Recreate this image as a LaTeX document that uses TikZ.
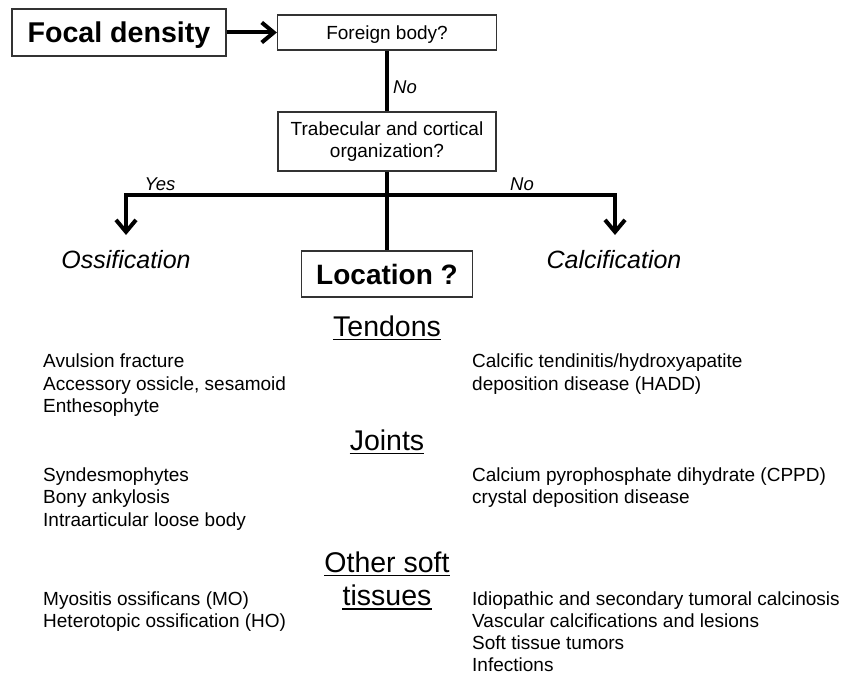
\documentclass[tikz,border=0pt]{standalone}
\usepackage{fontspec}
\setmainfont{Liberation Sans}
\usetikzlibrary{arrows.meta}
\begin{document}
\begin{tikzpicture}[x=1pt,y=-1pt,
  box/.style={draw=black!80,line width=1.3pt,inner sep=0pt,text depth=0pt},
  flow/.style={line width=4pt},
  tipd/.style={-{Straight Barb[length=12pt,width=20pt]}},
  lab/.style={font=\fontsize{18.5}{22}\selectfont\itshape,inner sep=0pt},
  item/.style={font=\fontsize{19}{22.7}\selectfont,inner sep=0pt,anchor=base west},
  head/.style={font=\fontsize{28.5}{34}\selectfont,inner sep=0pt,anchor=base},
  res/.style={font=\fontsize{25}{30}\selectfont\itshape,inner sep=0pt},
  uline/.style={line width=1.5pt}]
\useasboundingbox[fill=white] (0,0) rectangle (856,674);

% boxes
\node[box,minimum width=214pt,minimum height=47pt,font=\fontsize{28.6}{34}\selectfont\bfseries] (focal) at (119,32.5) {Focal density};
\node[box,minimum width=219pt,minimum height=35pt,font=\fontsize{19}{22.7}\selectfont] (foreign) at (387,32.5) {Foreign body?};
\node[box,minimum width=218pt,minimum height=59pt,align=center,text depth=,font=\fontsize{19}{22}\selectfont] (trab) at (387,141.5) {Trabecular and cortical\\organization?};
\node[box,minimum width=171pt,minimum height=46pt,font=\fontsize{28}{34}\selectfont\bfseries] (loc) at (387,274) {Location ?};

% connectors
\draw[flow,tipd] (focal.east) -- (foreign.west);
\draw[flow] (foreign.south) -- (trab.north);
\node[lab] (no1) at (405,87) {No};
\draw[flow] (trab.south) -- (loc.north);
\coordinate (j) at (387,195);
\coordinate (ossend) at (126,235);
\coordinate (calend) at (615,235);
\draw[flow,tipd] (j) -| (ossend);
\draw[flow,tipd] (j) -| (calend);
\node[lab] (yes) at (160,184) {Yes};
\node[lab] (no2) at (522,184) {No};

\node[res] (oss) at (126,260) {Ossification};
\node[res] (cal) at (614,260) {Calcification};

% headings
\node[head] (ten) at (387,336) {Tendons};
\draw[uline] ([yshift=-3.5pt]ten.base west) -- ([yshift=-3.5pt]ten.base east);
\node[head] (joi) at (387,450) {Joints};
\draw[uline] ([yshift=-3.5pt]joi.base west) -- ([yshift=-3.5pt]joi.base east);
\node[head] (os1) at (387,572) {Other soft};
\draw[uline] ([yshift=-3.5pt]os1.base west) -- ([yshift=-3.5pt]os1.base east);
\node[head] (os2) at (387,605) {tissues};
\draw[uline] ([yshift=-4pt]os2.base west) -- ([yshift=-4pt]os2.base east);

% left column
\node[item] (l1) at (43,367) {Avulsion fracture};
\node[item] (l2) at (43,390) {Accessory ossicle, sesamoid};
\node[item] (l3) at (43,412.5) {Enthesophyte};
\node[item] (l4) at (43,481) {Syndesmophytes};
\node[item] (l5) at (43,503.5) {Bony ankylosis};
\node[item] (l6) at (43,526) {Intraarticular loose body};
\node[item] (l7) at (43,605) {Myositis ossificans (MO)};
\node[item] (l8) at (43,627.5) {Heterotopic ossification (HO)};

% right column
\node[item] (r1) at (472,367) {Calcific tendinitis/hydroxyapatite};
\node[item] (r2) at (472,390) {deposition disease (HADD)};
\node[item] (r3) at (472,481) {Calcium pyrophosphate dihydrate (CPPD)};
\node[item] (r4) at (472,503.5) {crystal deposition disease};
\node[item] (r5) at (472,605) {Idiopathic and secondary tumoral calcinosis};
\node[item] (r6) at (472,627.5) {Vascular calcifications and lesions};
\node[item] (r7) at (472,649.5) {Soft tissue tumors};
\node[item] (r8) at (472,671) {Infections};
\end{tikzpicture}
\end{document}
